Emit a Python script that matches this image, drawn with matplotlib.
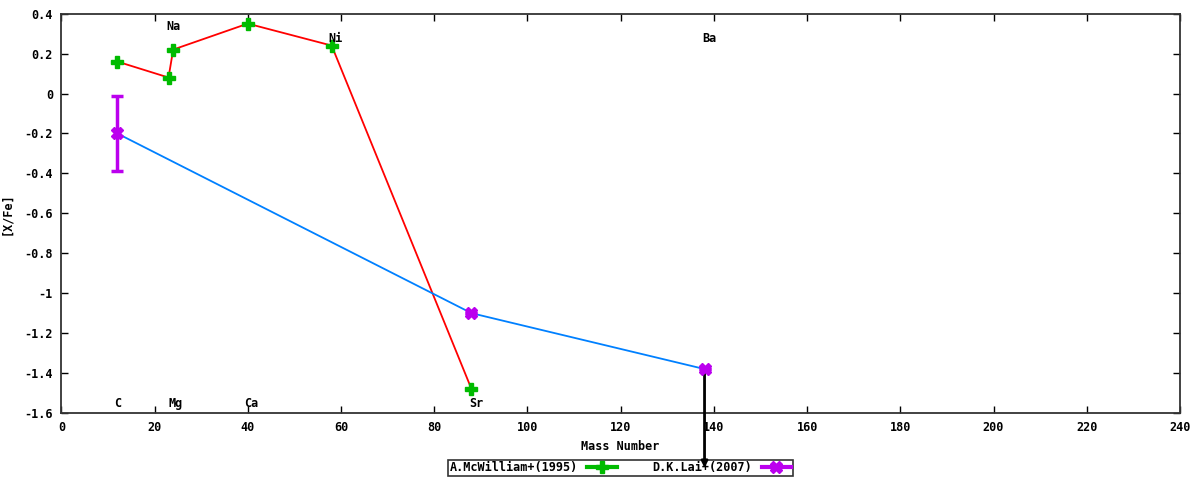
import matplotlib
matplotlib.use("Agg")
from matplotlib import pyplot as plt
from matplotlib.lines import Line2D
from matplotlib.ticker import FuncFormatter, MultipleLocator

# McWilliam+(1995)
mcw_mass = [12, 23, 24, 40, 58, 88]
mcw_xfe = [0.16, 0.08, 0.22, 0.35, 0.24, -1.48]

# D.K.Lai+(2007)
lai_mass = [12, 88, 138]
lai_xfe = [-0.20, -1.10, -1.38]
lai_err = [0.19, 0.0, 0.0]

# element labels (x, y, text)
label_x = [12, 24.5, 40.7, 89, 24, 58.8, 139]
label_y = [-1.55, -1.55, -1.55, -1.55, 0.335, 0.275, 0.275]
label_txt = ["C", "Mg", "Ca", "Sr", "Na", "Ni", "Ba"]

font = dict(family="DejaVu Sans Mono", weight="bold", size=8.5)

fig = plt.figure(figsize=(12, 4.8), dpi=100)
ax = fig.add_axes([0.0511, 0.1396, 0.9322, 0.832])
ax.set_zorder(10)  # so the Ba arrow sits on top of the legend

green = "#00bb00"
purple = "#bb00ee"

ax.plot(mcw_mass, mcw_xfe, color="red", lw=1.3, zorder=2)
ax.plot(mcw_mass, mcw_xfe, ls="none", marker="P", ms=8, color=green,
        mec=green, zorder=3)

ax.plot(lai_mass, lai_xfe, color="#0080ff", lw=1.3, zorder=2)
ax.errorbar(lai_mass, lai_xfe, yerr=lai_err, fmt="X", ms=9, color=purple,
            ecolor=purple, elinewidth=2.5, capsize=4, capthick=2.5, zorder=3)

# upper-limit arrow for Ba
ax.annotate("", xy=(lai_mass[2], -1.875), xytext=(lai_mass[2], lai_xfe[2]),
            annotation_clip=False,
            arrowprops=dict(arrowstyle="-|>", color="black", lw=2,
                            mutation_scale=9, shrinkA=0, shrinkB=0))

for x, y, t in zip(label_x, label_y, label_txt):
    ax.text(x, y, t, ha="center", va="center", **font)

ax.set_xlim(0, 240)
ax.set_ylim(-1.6, 0.4)
ax.xaxis.set_major_locator(MultipleLocator(20))
ax.yaxis.set_major_locator(MultipleLocator(0.2))
fmt = FuncFormatter(lambda v, p: "%g" % round(v, 4))
ax.xaxis.set_major_formatter(fmt)
ax.yaxis.set_major_formatter(fmt)
ax.tick_params(direction="in", top=True, right=True, length=5, width=1,
               pad=6)
for lab in ax.get_xticklabels() + ax.get_yticklabels():
    lab.set_fontproperties(matplotlib.font_manager.FontProperties(**font))
for s in ax.spines.values():
    s.set_linewidth(1.3)
    s.set_color("#333333")

ax.set_xlabel("Mass Number", fontdict=font, labelpad=4)
ax.set_ylabel("[X/Fe]", fontdict=font, labelpad=8)

handles = [
    Line2D([], [], color=green, lw=3, marker="P", ms=8),
    Line2D([], [], color=purple, lw=3, marker="X", ms=8),
]
leg = fig.legend(handles, ["A.McWilliam+(1995)", "D.K.Lai+(2007)"],
                 loc="center", bbox_to_anchor=(0.517, 0.025), ncol=2,
                 markerfirst=False, frameon=True, fancybox=False,
                 prop=matplotlib.font_manager.FontProperties(**font),
                 handlelength=2.5, columnspacing=3, borderpad=0.15,
                 handletextpad=0.8)
leg.get_frame().set_edgecolor("black")
leg.get_frame().set_linewidth(1.2)

fig.savefig("out.png", dpi=100)
